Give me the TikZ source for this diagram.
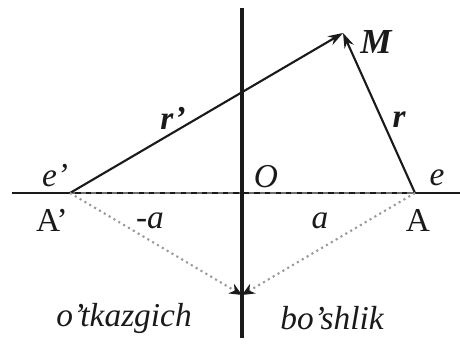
\documentclass[tikz,border=0pt]{standalone}
\usepackage{fontspec}
\setmainfont{Liberation Serif}
\usetikzlibrary{arrows.meta, positioning}
\definecolor{imgInk}{HTML}{1a1a1a}
\definecolor{imgDot}{HTML}{9a9a9a}
\definecolor{imgDash}{HTML}{6e6e6e}

\begin{document}
\begin{tikzpicture}[x=0.02cm, y=-0.02cm, font=\fontsize{19}{22}\selectfont,
        axis/.style={imgInk, line width=0.6pt},
        wall/.style={imgInk, line width=2.2pt},
        vec/.style={-{Stealth[length=3mm, width=2mm]}, imgInk, line width=1.2pt},
        mirror/.style={-{Stealth[length=2.5mm, width=2.2mm, imgInk]}, imgDot, dotted, line width=1.2pt},
        lbl/.style={text=imgInk, inner sep=0pt, font=\fontsize{19}{22}\selectfont\itshape}]
        \useasboundingbox (0,0) rectangle (460,343);
        % points
        \coordinate (Ap) at (70,193);
        \coordinate (A) at (415,193);
        \coordinate (M) at (343,33);
        \coordinate (P) at (242,295);
        \coordinate (xl) at (12,193);
        \coordinate (xr) at (460,193);
        \coordinate (wt) at (242,8);
        \coordinate (wb) at (242,338);
        % axes
        \draw[axis] (xl) -- (xr);
        \draw[imgDash, dashed, line width=1pt] (Ap) -- (A);
        \draw[wall] (wt) -- (wb);
        % vectors
        \draw[vec] (Ap) -- (M);
        \draw[vec] (A) -- (M);
        \draw[mirror] (Ap) -- (P);
        \draw[mirror] (A) -- (P);
        % labels
        \node[lbl] (le) at (55,176) {e'};
        \node[lbl] (lo) at (266,177) {O};
        \node[lbl] (lee) at (437,178) {e};
        \node[lbl, font=\fontsize{19}{22}\selectfont] (lap) at (52,220) {A'};
        \node[lbl] (lma) at (150,221) {-a};
        \node[lbl] (la) at (320,221) {a};
        \node[lbl, font=\fontsize{19}{22}\selectfont] (la2) at (418,220) {A};
        \node[lbl, font=\fontsize{19}{22}\selectfont\bfseries\itshape] (lrp) at (173,118) {r'};
        \node[lbl, font=\fontsize{19}{22}\selectfont\bfseries\itshape] (lr) at (399,120) {r};
        \node[lbl, font=\fontsize{20}{22}\selectfont\bfseries\itshape] (lm) at (376,42) {M};
        \node[lbl] (lcond) at (124,318) {o'tkazgich};
        \node[lbl] (lvac) at (332,318) {bo'shlik};
      \end{tikzpicture}
\end{document}
